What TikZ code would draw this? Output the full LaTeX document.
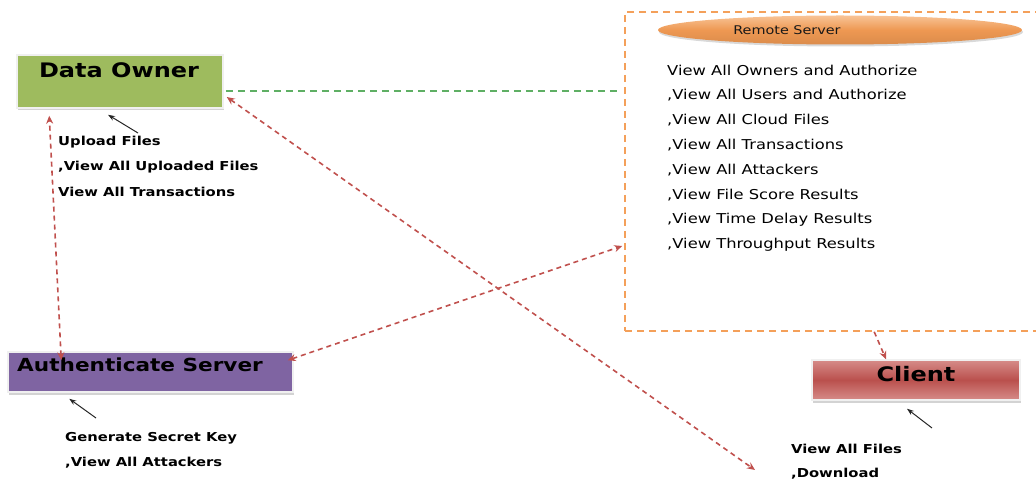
\documentclass[tikz,border=0pt]{standalone}
\usepackage{fontspec}
\setmainfont{DejaVu Sans}[FakeStretch=1.2]
\usetikzlibrary{shadows,calc,arrows.meta,shapes.geometric}
\definecolor{dogreen}{RGB}{158,187,94}
\definecolor{aupurple}{RGB}{127,100,162}
\definecolor{clred}{RGB}{186,80,77}
\definecolor{cllight}{RGB}{214,140,137}
\definecolor{rsorange}{RGB}{238,152,82}
\definecolor{rslight}{RGB}{248,195,150}
\definecolor{rsline}{RGB}{244,160,90}
\definecolor{arrred}{RGB}{192,80,77}
\definecolor{gline}{RGB}{95,175,100}
\begin{document}
\begin{tikzpicture}[x=1pt,y=-1pt,
  box/.style={draw=black!6, line width=1.5pt, inner sep=0pt,
    drop shadow={shadow xshift=1pt,shadow yshift=-2.5pt,opacity=0.35}},
  titlefont/.style={font=\bfseries\fontsize{#1}{#1}\selectfont, inner sep=0pt},
  bodytext/.style={font=\bfseries\fontsize{12.3}{12.3}\selectfont, inner sep=0pt, anchor=west},
  rstext/.style={font=\fontsize{13.6}{13.6}\selectfont, inner sep=0pt, anchor=west, text=black},
  reddash/.style={draw=arrred, line width=1.6pt, dash pattern=on 5pt off 4pt,
    {Stealth[length=8pt,width=7pt]}-{Stealth[length=8pt,width=7pt]}},
  reddashone/.style={draw=arrred, line width=1.6pt, dash pattern=on 5pt off 4pt,
    -{Stealth[length=8pt,width=7pt]}},
  blackarrow/.style={draw=black!85, line width=1pt, -{Stealth[length=7pt,width=5pt]}}
]
\useasboundingbox (0,0) rectangle (1036,486);

% Remote server dashed region
\node[draw=rsline, line width=1.6pt, dash pattern=on 7pt off 5pt,
  minimum width=415pt, minimum height=319pt, inner sep=0pt] (rs) at (832.5,171.5) {};
\node[ellipse, minimum width=364pt, minimum height=29pt, inner sep=0pt,
  top color=rslight, bottom color=rsorange!92!black, middle color=rsorange,
  drop shadow={shadow xshift=1pt,shadow yshift=-2pt,opacity=0.3}] (rse) at (840,30) {};
\node[font=\fontsize{12}{12}\selectfont, inner sep=0pt, text=black!90] (rst) at (787,30) {Remote Server};

\node[rstext] (r1) at (667,70) {View All Owners and Authorize};
\node[rstext] (r2) at (667,95) {,View All Users and Authorize};
\node[rstext] (r3) at (667,120) {,View All Cloud Files};
\node[rstext] (r4) at (667,145) {,View All Transactions};
\node[rstext] (r5) at (667,170) {,View All Attackers};
\node[rstext] (r6) at (667,195) {,View File Score Results};
\node[rstext] (r7) at (667,220) {,View Time Delay Results};
\node[rstext] (r8) at (667,245) {,View Throughput Results};

% Data Owner
\node[box, fill=dogreen, minimum width=206pt, minimum height=53pt] (do) at (120,81.5) {};
\node[titlefont=20] (dot) at (119,70) {Data Owner};
\node[bodytext] (d1) at (58,142) {Upload Files};
\node[bodytext] (d2) at (58,167) {,View All Uploaded Files};
\node[bodytext] (d3) at (58,192) {View All Transactions};

% Authenticate Server
\node[box, fill=aupurple, minimum width=285pt, minimum height=40pt] (au) at (150.5,372) {};
\node[titlefont=18, anchor=west] (aut) at (17,365) {Authenticate Server};
\node[bodytext] (a1) at (65,438) {Generate Secret Key};
\node[bodytext] (a2) at (65,463) {,View All Attackers};

% Client
\node[box, minimum width=208pt, minimum height=40pt,
  top color=cllight, bottom color=cllight, middle color=clred] (cl) at (916,380) {};
\node[titlefont=20] (clt) at (916,374) {Client};
\node[bodytext] (c1) at (791,449) {View All Files};
\node[bodytext] (c2) at (791,474) {,Download};

% green dashed connector
\draw[draw=gline, line width=1.2pt, dash pattern=on 7pt off 5pt]
  ($(do.east)+(2,9.5)$) -- ($(rs.west)+(-5,-80.5)$);

% red dashed connectors
\coordinate (a1s) at ($(au.north west)+(54,9)$);
\coordinate (a1e) at ($(do.south west)+(33,7)$);
\draw[reddash] (a1s) -- (a1e);
\coordinate (a2s) at ($(au.north east)+(-6,9)$);
\coordinate (a2e) at ($(rs.west)+(-2,74.5)$);
\draw[reddash] (a2s) -- (a2e);
\coordinate (a3s) at ($(do.east)+(3,15.5)$);
\coordinate (a3e) at (755,470);
\draw[reddash] (a3s) -- (a3e);
\coordinate (a4s) at ($(rs.south west)+(250,0)$);
\coordinate (a4e) at ($(cl.north)+(-30,0)$);
\draw[reddashone] (a4s) -- (a4e);

% small black arrows
\coordinate (b1s) at (138,133);
\draw[blackarrow] (b1s) -- ($(do.south)+(-12,6)$);
\coordinate (b2s) at (96,418);
\draw[blackarrow] (b2s) -- ($(au.south west)+(62,6)$);
\coordinate (b3s) at (932,428);
\draw[blackarrow] (b3s) -- ($(cl.south)+(-9,8)$);
\end{tikzpicture}
\end{document}
